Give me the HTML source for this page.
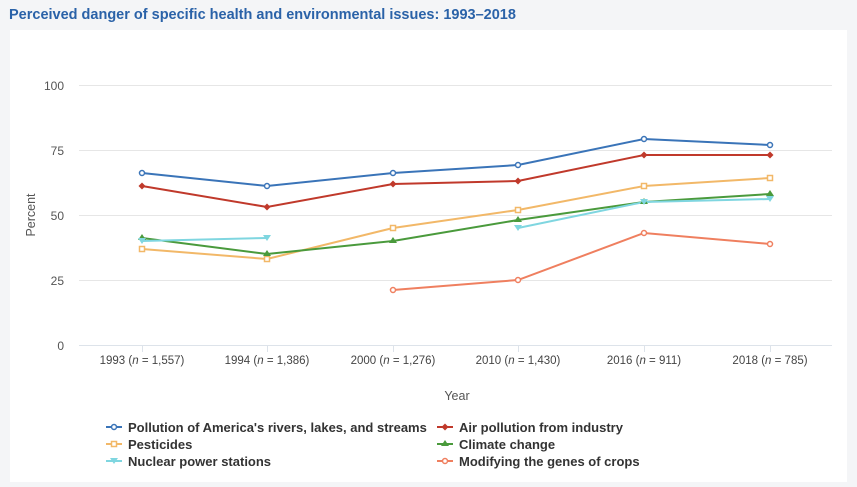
<!DOCTYPE html>
<html><head><meta charset="utf-8"><style>
body{margin:0;background:#f4f5f7;width:857px;height:482px;overflow:hidden;font-family:"Liberation Sans",sans-serif;}
</style></head><body>
<svg width="857" height="482" xmlns="http://www.w3.org/2000/svg" font-family="Liberation Sans, sans-serif">
<rect x="0" y="0" width="857" height="482" fill="#f4f5f7"/>
<text x="9" y="19" font-size="14.5" font-weight="bold" fill="#2a62a8">Perceived danger of specific health and environmental issues: 1993–2018</text>
<rect x="10" y="30" width="837" height="452" fill="#fff"/>
<g stroke="#e6e6e6" stroke-width="1">
<line x1="79" x2="832" y1="85.5" y2="85.5"/><line x1="79" x2="832" y1="150.5" y2="150.5"/>
<line x1="79" x2="832" y1="215.5" y2="215.5"/><line x1="79" x2="832" y1="280.5" y2="280.5"/>
</g>
<line x1="79" x2="832" y1="345.5" y2="345.5" stroke="#dde3ea"/>
<g stroke="#dde3ea"><line x1="142.5" x2="142.5" y1="346" y2="352"/><line x1="267.5" x2="267.5" y1="346" y2="352"/><line x1="393.5" x2="393.5" y1="346" y2="352"/><line x1="518.5" x2="518.5" y1="346" y2="352"/><line x1="644.5" x2="644.5" y1="346" y2="352"/><line x1="770.5" x2="770.5" y1="346" y2="352"/></g>
<g font-size="12" fill="#555" text-anchor="end">
<text x="64" y="90">100</text><text x="64" y="155">75</text><text x="64" y="220">50</text><text x="64" y="285">25</text><text x="64" y="350">0</text>
</g>
<text x="35" y="215" font-size="12.5" fill="#555" text-anchor="middle" transform="rotate(-90 35 215)">Percent</text>
<g font-size="11.5" fill="#444" text-anchor="middle">
<text x="142" y="364">1993 (<tspan font-style="italic">n</tspan> = 1,557)</text>
<text x="267" y="364">1994 (<tspan font-style="italic">n</tspan> = 1,386)</text>
<text x="393" y="364">2000 (<tspan font-style="italic">n</tspan> = 1,276)</text>
<text x="518" y="364">2010 (<tspan font-style="italic">n</tspan> = 1,430)</text>
<text x="644" y="364">2016 (<tspan font-style="italic">n</tspan> = 911)</text>
<text x="770" y="364">2018 (<tspan font-style="italic">n</tspan> = 785)</text>
</g>
<text x="457" y="400" font-size="12.5" fill="#555" text-anchor="middle">Year</text>
<g fill="none" stroke-width="2">
<polyline stroke="#3a74b8" points="142,173 267,186 393,173 518,165 644,139 770,145"/>
<polyline stroke="#c0392b" points="142,186 267,207 393,184 518,181 644,155 770,155"/>
<polyline stroke="#f2b868" points="142,249 267,259 393,228 518,210 644,186 770,178"/>
<polyline stroke="#4a9a3c" points="142,238 267,254 393,241 518,220 644,202 770,194"/>
<polyline stroke="#7fd6e0" points="142,241 267,238"/>
<polyline stroke="#7fd6e0" points="518,228 644,202 770,199"/>
<polyline stroke="#ef7f5f" points="393,290 518,280 644,233 770,244"/>
</g>
<g fill="#fff" stroke-width="1.5">
<g stroke="#3a74b8"><circle cx="142" cy="173" r="2.5"/><circle cx="267" cy="186" r="2.5"/><circle cx="393" cy="173" r="2.5"/><circle cx="518" cy="165" r="2.5"/><circle cx="644" cy="139" r="2.5"/><circle cx="770" cy="145" r="2.5"/></g>
<g stroke="#f2b868"><rect x="139.5" y="246.5" width="5" height="5"/><rect x="264.5" y="256.5" width="5" height="5"/><rect x="390.5" y="225.5" width="5" height="5"/><rect x="515.5" y="207.5" width="5" height="5"/><rect x="641.5" y="183.5" width="5" height="5"/><rect x="767.5" y="175.5" width="5" height="5"/></g>
<g stroke="#ef7f5f"><circle cx="393" cy="290" r="2.5"/><circle cx="518" cy="280" r="2.5"/><circle cx="644" cy="233" r="2.5"/><circle cx="770" cy="244" r="2.5"/></g>
</g>
<g fill="#c0392b"><path d="M142 182.5l3.5 3.5-3.5 3.5-3.5-3.5z"/><path d="M267 203.5l3.5 3.5-3.5 3.5-3.5-3.5z"/><path d="M393 180.5l3.5 3.5-3.5 3.5-3.5-3.5z"/><path d="M518 177.5l3.5 3.5-3.5 3.5-3.5-3.5z"/><path d="M644 151.5l3.5 3.5-3.5 3.5-3.5-3.5z"/><path d="M770 151.5l3.5 3.5-3.5 3.5-3.5-3.5z"/></g>
<g fill="#4a9a3c"><path d="M142 234l4 6h-8z"/><path d="M267 250l4 6h-8z"/><path d="M393 237l4 6h-8z"/><path d="M518 216l4 6h-8z"/><path d="M644 198l4 6h-8z"/><path d="M770 190l4 6h-8z"/></g>
<g fill="#7fd6e0"><path d="M138 238h8l-4 6z"/><path d="M263 235h8l-4 6z"/><path d="M514 225h8l-4 6z"/><path d="M640 199h8l-4 6z"/><path d="M766 196h8l-4 6z"/></g>
<g font-size="13" font-weight="bold" fill="#333">
<line x1="106" x2="122" y1="427" y2="427" stroke="#3a74b8" stroke-width="2"/><circle cx="114" cy="427" r="2.5" fill="#fff" stroke="#3a74b8" stroke-width="1.5"/>
<text x="128" y="432">Pollution of America's rivers, lakes, and streams</text>
<line x1="106" x2="122" y1="444" y2="444" stroke="#f2b868" stroke-width="2"/><rect x="111.5" y="441.5" width="5" height="5" fill="#fff" stroke="#f2b868" stroke-width="1.5"/>
<text x="128" y="449">Pesticides</text>
<line x1="106" x2="122" y1="461" y2="461" stroke="#7fd6e0" stroke-width="2"/><path d="M110 458h8l-4 6z" fill="#7fd6e0"/>
<text x="128" y="466">Nuclear power stations</text>
<line x1="437" x2="453" y1="427" y2="427" stroke="#c0392b" stroke-width="2"/><path d="M445 423.5l3.5 3.5-3.5 3.5-3.5-3.5z" fill="#c0392b"/>
<text x="459" y="432">Air pollution from industry</text>
<line x1="437" x2="453" y1="444" y2="444" stroke="#4a9a3c" stroke-width="2"/><path d="M445 440l4 6h-8z" fill="#4a9a3c"/>
<text x="459" y="449">Climate change</text>
<line x1="437" x2="453" y1="461" y2="461" stroke="#ef7f5f" stroke-width="2"/><circle cx="445" cy="461" r="2.5" fill="#fff" stroke="#ef7f5f" stroke-width="1.5"/>
<text x="459" y="466">Modifying the genes of crops</text>
</g>
</svg>
</body></html>
